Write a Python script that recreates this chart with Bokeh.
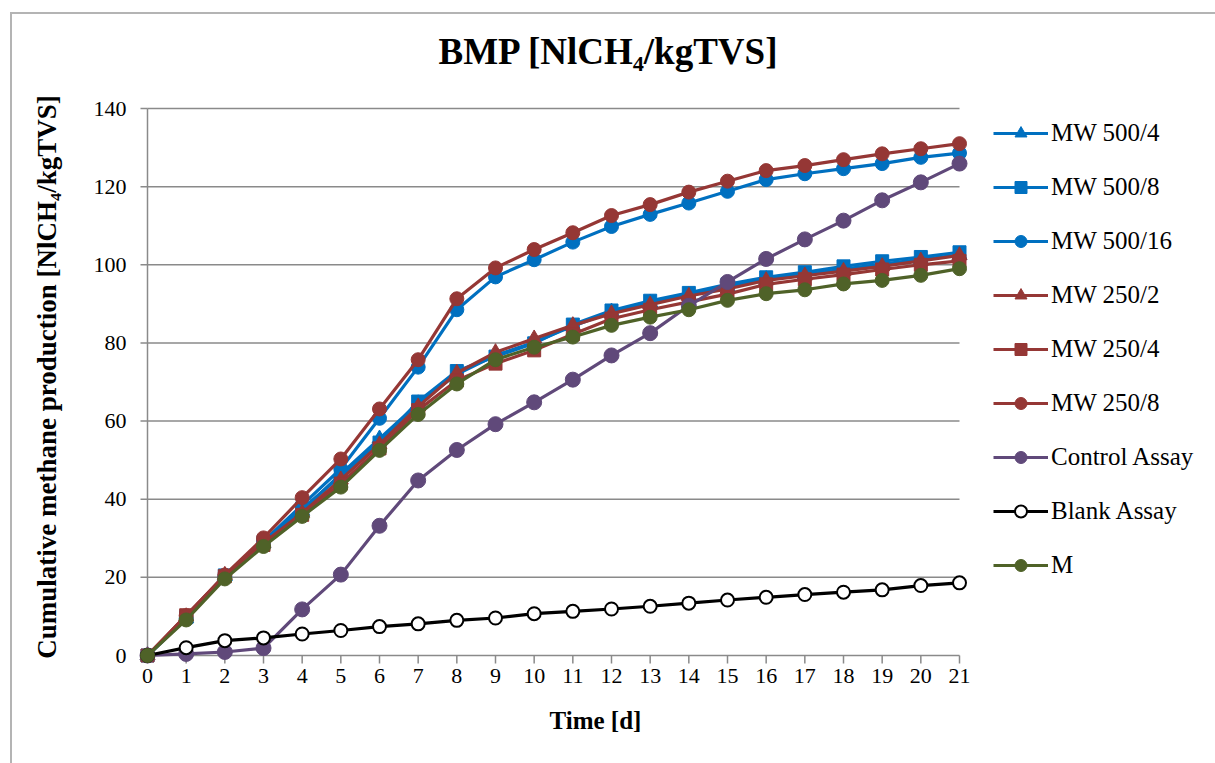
from bokeh.plotting import figure
from bokeh.models import Range1d, FixedTicker, Legend, LegendItem, Title
from bokeh.embed import file_html
from bokeh.resources import INLINE

# ---- data -------------------------------------------------------------
days = list(range(22))
x_ticks = list(range(22))
y_ticks = [0, 20, 40, 60, 80, 100, 120, 140]

mw500_4 = [0, 9.5, 20.3, 28.8, 37.0, 46.5, 55.5, 64.5, 72.0, 76.8, 80.2, 84.3,
           88.0, 90.3, 92.2, 94.4, 96.3, 97.5, 98.9, 100.2, 101.4, 102.5]
mw500_8 = [0, 9.8, 20.5, 29.0, 37.5, 46.0, 54.5, 65.0, 72.8, 76.5, 79.9, 84.7,
           88.3, 90.8, 92.8, 95.0, 96.8, 98.1, 99.6, 100.9, 102.0, 103.2]
mw500_16 = [0, 9.5, 20.2, 29.2, 38.5, 47.8, 60.7, 73.8, 88.5, 96.9, 101.3, 105.8,
            109.8, 112.9, 115.8, 118.8, 121.8, 123.3, 124.6, 125.9, 127.5, 128.6]
mw250_2 = [0, 10.0, 20.6, 28.8, 36.5, 45.0, 54.0, 63.7, 72.3, 77.6, 81.1, 84.5,
           87.5, 89.8, 92.0, 93.8, 96.0, 97.2, 98.4, 99.6, 101.0, 102.4]
mw250_4 = [0, 10.3, 20.3, 28.3, 36.0, 44.0, 53.0, 62.8, 70.4, 74.7, 78.1, 82.2,
           86.2, 88.5, 90.5, 92.5, 95.0, 96.3, 97.5, 98.8, 100.0, 101.0]
mw250_8 = [0, 10.2, 20.6, 30.1, 40.4, 50.3, 63.1, 75.7, 91.3, 99.2, 103.9, 108.2,
           112.6, 115.4, 118.6, 121.4, 124.1, 125.4, 126.9, 128.4, 129.7, 131.0]
control = [0, 0.4, 0.9, 1.9, 11.8, 20.7, 33.2, 44.8, 52.6, 59.2, 64.8, 70.6,
           76.8, 82.5, 89.5, 95.6, 101.5, 106.5, 111.3, 116.5, 121.1, 125.9]
blank = [0, 2.0, 3.8, 4.5, 5.5, 6.4, 7.4, 8.1, 9.0, 9.6, 10.7, 11.3,
         11.9, 12.6, 13.4, 14.2, 14.9, 15.6, 16.2, 16.8, 17.9, 18.6]
m_series = [0, 9.1, 19.6, 27.9, 35.6, 43.1, 52.5, 61.7, 69.5, 75.7, 78.9, 81.5,
            84.5, 86.6, 88.5, 90.9, 92.6, 93.6, 95.1, 96.0, 97.3, 99.0]

names = ["MW 500/4", "MW 500/8", "MW 500/16", "MW 250/2", "MW 250/4",
         "MW 250/8", "Control Assay", "Blank Assay", "M"]
values = [mw500_4, mw500_8, mw500_16, mw250_2, mw250_4, mw250_8,
          control, blank, m_series]

BLUE, RED, PURPLE, GREEN, BLACK = "#0070C0", "#953735", "#60497A", "#4F6228", "#000000"
styles = [
    (BLUE, "triangle", 15, BLUE),
    (BLUE, "square", 13, BLUE),
    (BLUE, "circle", 14, BLUE),
    (RED, "triangle", 15, RED),
    (RED, "square", 13, RED),
    (RED, "circle", 14, RED),
    (PURPLE, "circle", 15, PURPLE),
    (BLACK, "circle", 13, "white"),
    (GREEN, "circle", 14, GREEN),
]

FONT = "Liberation Serif"
GRID = "#8a8a8a"

# ---- geometry (pixels, in figure coordinates) ---------------------------
X_PX = 812.0 / 21.0        # pixels per day
Y_PX = 547.0 / 140.0       # pixels per unit
PAD, PAD_TOP = 12.0, 22.0  # frame padding so edge markers are not clipped
FRAME_L, X0_PX, FRAME_R = 125, 137, 1195   # frame extends under the legend
xpad, ypad, ypad_top = PAD / X_PX, PAD / Y_PX, PAD_TOP / Y_PX
x_end = x_ticks[0] + (FRAME_R - X0_PX) / X_PX

p = figure(width=1205, height=751, output_backend="svg", toolbar_location=None,
           x_range=Range1d(x_ticks[0] - xpad, x_end),
           y_range=Range1d(y_ticks[0] - ypad, y_ticks[-1] + ypad_top),
           min_border_left=FRAME_L, min_border_right=1205 - FRAME_R,
           min_border_top=74, min_border_bottom=96,
           margin=(12, 0, 0, 10))
p.outline_line_color = None
p.border_fill_color = None
p.styles = {"box-shadow": "inset 2px 2px 0 #b4b4b4"}

# title
p.title.text = "BMP [NlCH\u2084/kgTVS]"
p.title.text_font = FONT
p.title.text_font_size = "37px"
p.title.text_font_style = "bold"
p.title.text_color = "black"
p.title.align = "left"
p.title.offset = 303
p.title.standoff = 29

# axes: keep labels, draw lines/ticks at data zero ourselves
for ax in (p.xaxis[0], p.yaxis[0]):
    ax.axis_line_color = None
    ax.major_tick_line_color = None
    ax.minor_tick_line_color = None
    ax.major_tick_out = 0
    ax.major_tick_in = 0
    ax.major_label_text_font = FONT
    ax.major_label_text_font_size = "22px"
    ax.major_label_text_color = "black"
    ax.axis_label_text_font = FONT
    ax.axis_label_text_font_style = "bold"
    ax.axis_label_text_color = "black"
p.xaxis.ticker = FixedTicker(ticks=x_ticks)
p.yaxis.ticker = FixedTicker(ticks=y_ticks)
p.xaxis.major_label_standoff = 1
p.yaxis.major_label_standoff = 9
p.yaxis.axis_label = "Cumulative methane production [NlCH\u2084/kgTVS]"
p.yaxis.axis_label_text_font_size = "27px"
p.yaxis.axis_label_standoff = 29

# x-axis title, placed under the day axis rather than under the wide frame
p.add_layout(Title(text="Time [d]", text_font=FONT, text_font_size="25px",
                   text_font_style="bold", text_color="black",
                   align="left", offset=414, standoff=39), "below")

# grid lines, axis lines and tick marks, bounded to the data area
p.xgrid.visible = False
p.ygrid.visible = False
grid_y = y_ticks[1:]
p.segment(x0=[x_ticks[0]] * len(grid_y), y0=grid_y,
          x1=[x_ticks[-1]] * len(grid_y), y1=grid_y,
          line_color=GRID, line_width=1.5)
p.segment(x0=[x_ticks[0]], y0=[y_ticks[0]], x1=[x_ticks[0]], y1=[y_ticks[-1]],
          line_color=GRID, line_width=1.5)
p.segment(x0=[x_ticks[0]], y0=[y_ticks[0]], x1=[x_ticks[-1]], y1=[y_ticks[0]],
          line_color=GRID, line_width=1.5)
p.segment(x0=[x_ticks[0] - 7 / X_PX] * len(y_ticks), y0=y_ticks,
          x1=[x_ticks[0]] * len(y_ticks), y1=y_ticks, line_color=GRID, line_width=1.5)
p.segment(x0=x_ticks, y0=[y_ticks[0]] * len(x_ticks),
          x1=x_ticks, y1=[y_ticks[0] - 8 / Y_PX] * len(x_ticks),
          line_color=GRID, line_width=1.5)

# series
items = []
for name, vals, (col, mk, sz, fill) in zip(names, values, styles):
    r1 = p.line(days, vals, line_color=col, line_width=3.2)
    r2 = p.scatter(days, vals, marker=mk, size=sz, fill_color=fill, line_color=col,
                   line_width=2 if fill == "white" else 1)
    items.append(LegendItem(label=name, renderers=[r1, r2]))

lg = Legend(items=items, location=(858, 87), margin=0, padding=0,
            border_line_color=None, background_fill_alpha=0,
            glyph_width=55, glyph_height=30, label_height=30, spacing=24,
            label_standoff=3, label_text_font=FONT, label_text_font_size="25px",
            label_text_color="black")
p.add_layout(lg, "center")

open("out.html", "w").write(file_html(p, INLINE))
